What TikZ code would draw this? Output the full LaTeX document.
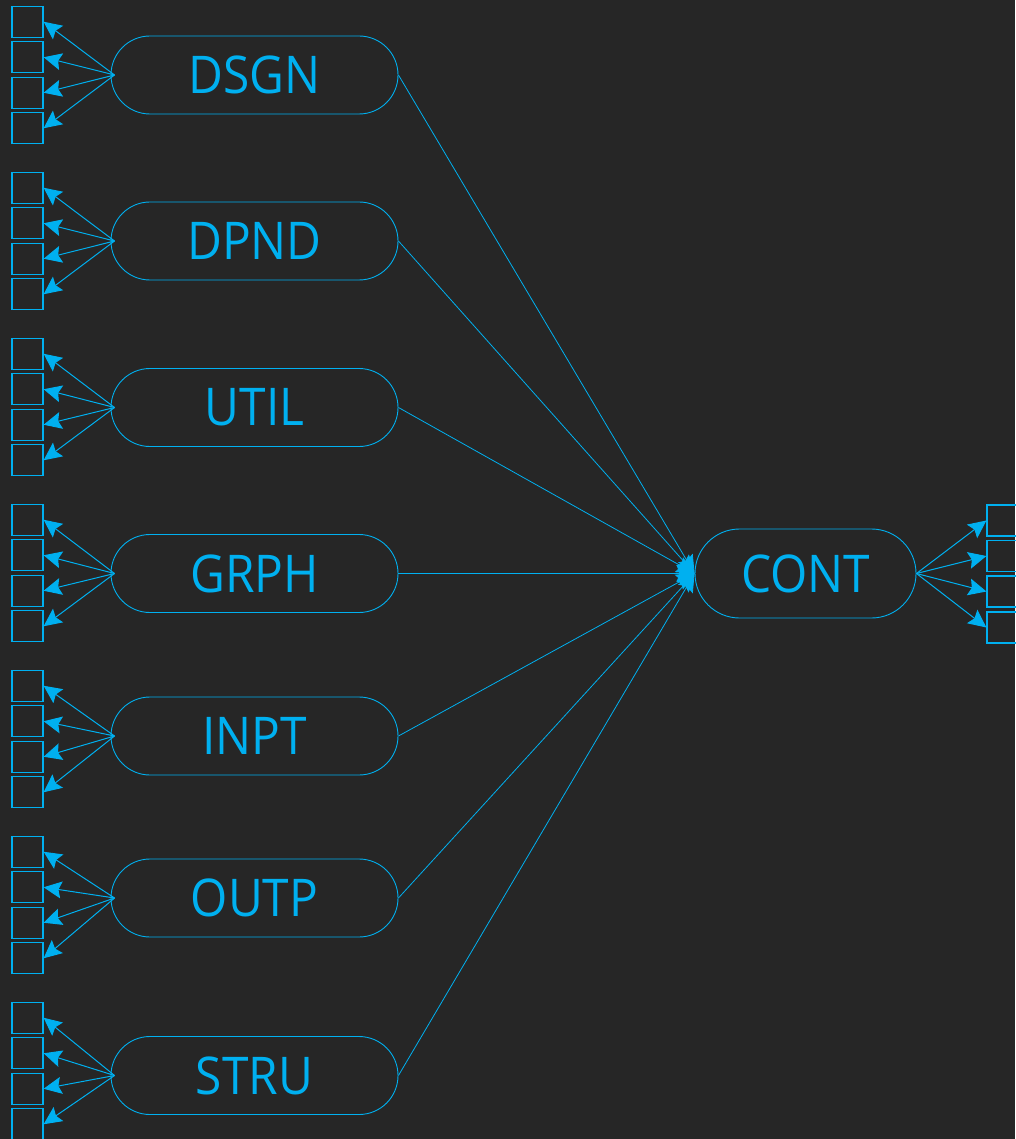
\documentclass[tikz,border=0pt]{standalone}
\usepackage{fontspec}
\setmainfont{Open Sans}
\newfontfamily\labfont[FakeStretch=0.92]{Open Sans}
\usetikzlibrary{arrows.meta,shapes.misc}
\definecolor{bg}{HTML}{262626}
\definecolor{cy}{HTML}{00B0F0}
\tikzset{
  lat/.style={draw=cy, line width=0.9pt, rounded rectangle, minimum width=287pt, minimum height=78pt, text=cy, font=\labfont\fontsize{52}{52}\selectfont, inner sep=0pt},
  ind/.style={draw=cy, line width=1.2pt, minimum size=31pt, inner sep=0pt},
  tipx/.style={-{Stealth[length=18pt,width=17pt,inset=3pt]}},
  arr/.style={draw=cy, line width=1pt, tipx},
  link/.style={draw=cy, line width=0.8pt, tipx}
}
\begin{document}
\begin{tikzpicture}[x=1pt,y=-1pt]
\fill[bg] (0,0) rectangle (1015,1139);
\useasboundingbox (0,0) rectangle (1015,1139);
\node[lat, minimum width=221pt, minimum height=89pt] (cont) at (805.5,573.5) {CONT};
\foreach \name/\lab/\y/\g in {dsgn/DSGN/75/75, dpnd/DPND/241/241, util/UTIL/407.5/407, grph/GRPH/573.5/573, inpt/INPT/736/739, outp/OUTP/898/905, stru/STRU/1075.5/1071}{
  \node[lat] (\name) at (254.5,\y) {\lab};
  \node[ind] (\name b1) at (27.5,\g-53.25) {};
  \node[ind] (\name b2) at (27.5,\g-17.75) {};
  \node[ind] (\name b3) at (27.5,\g+17.75) {};
  \node[ind] (\name b4) at (27.5,\g+53.25) {};
  \coordinate (\name o) at ([xshift=4pt]\name.west);
  \foreach \k in {1,2,3,4}{
    \draw[arr] (\name o) -- (\name b\k.east);
  }
  \draw[link] (\name.east) -- (cont.west);
}
\node[ind] (cb1) at (1002.5,520.5) {};
\node[ind] (cb2) at (1002.5,556) {};
\node[ind] (cb3) at (1002.5,591.5) {};
\node[ind] (cb4) at (1002.5,627.5) {};
\foreach \k in {1,2,3,4}{
  \draw[arr] (cont.east) -- (cb\k.west);
}
\end{tikzpicture}
\end{document}
